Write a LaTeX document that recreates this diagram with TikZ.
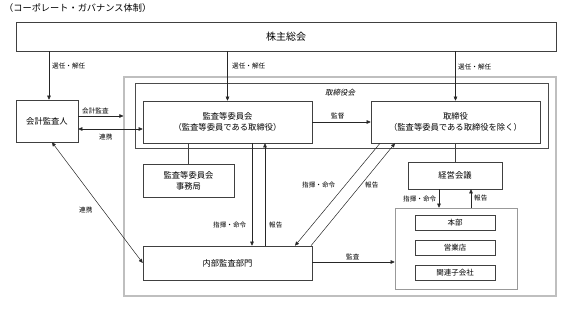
\documentclass[tikz,border=0pt]{standalone}
\usepackage{fontspec}
\setmainfont{Noto Sans CJK JP}
\newfontfamily\slantjp[FakeSlant=0.2]{Noto Sans CJK JP}
\usetikzlibrary{arrows.meta}
\tikzset{
  box/.style={draw=black!75, line width=0.6pt, fill=white, inner sep=0pt, align=center, font=\fontsize{8.3}{11}\selectfont},
  sbox/.style={draw=black!75, line width=0.6pt, fill=white, inner sep=0pt, align=center, font=\fontsize{7.5}{9}\selectfont},
  lbl/.style={inner sep=0pt, font=\fontsize{6.6}{8}\selectfont, anchor=west},
  arr/.style={draw=black!85, line width=0.5pt, -{Triangle[length=4pt,width=3.6pt]}},
  darr/.style={draw=black!85, line width=0.5pt, {Triangle[length=4pt,width=3.6pt]}-{Triangle[length=4pt,width=3.6pt]}},
  ln/.style={draw=black!75, line width=0.6pt},
}
\begin{document}
\begin{tikzpicture}[x=1pt,y=-1pt]
\useasboundingbox (0,0) rectangle (566,310);
\node[inner sep=0pt, anchor=west, font=\fontsize{9.2}{11}\selectfont] (title) at (4,8.5) {（コーポレート・ガバナンス体制）};
% outer frames
\node[draw=black!25, line width=1.2pt, inner sep=0pt, minimum width=432pt, minimum height=219pt] (outer) at (340,186.5) {};
\node[draw=black!70, line width=0.6pt, inner sep=0pt, minimum width=413pt, minimum height=65pt] (torikai) at (341.5,115.5) {};
\node[inner sep=0pt, font=\slantjp\fontsize{7.5}{9}\selectfont] (torikaiL) at (340,93) {取締役会};
% boxes
\node[box, font=\fontsize{10}{12}\selectfont, minimum width=540pt, minimum height=29pt] (kabu) at (286,36.5) {株主総会};
\node[box, minimum width=62pt, minimum height=42pt] (kaikei) at (47,121) {会計監査人};
\node[box, minimum width=169pt, minimum height=42pt] (kansa) at (227.5,122) {監査等委員会\\（監査等委員である取締役）};
\node[box, minimum width=169pt, minimum height=42pt] (tori) at (455.5,122) {取締役\\（監査等委員である取締役を除く）};
\node[box, minimum width=91pt, minimum height=33pt] (jimu) at (188.5,180.5) {監査等委員会\\事務局};
\node[box, minimum width=169pt, minimum height=34pt] (naibu) at (227.5,263) {内部監査部門};
\node[box, minimum width=94pt, minimum height=27pt] (keiei) at (455,175.5) {経営会議};
\node[draw=black!40, line width=0.6pt, inner sep=0pt, minimum width=122pt, minimum height=81pt] (group) at (456,248.5) {};
\node[sbox, minimum width=80pt, minimum height=15pt] (honbu) at (455,223) {本部};
\node[sbox, minimum width=80pt, minimum height=15pt] (eigyo) at (455,248) {営業店};
\node[sbox, minimum width=80pt, minimum height=15pt] (kanren) at (455,273) {関連子会社};
% shareholders arrows
\draw[arr] (kabu.south -| 49,0) -- (49,0 |- kaikei.north);
\node[lbl] at (52,65.5) {選任・解任};
\draw[arr] (kabu.south -| kansa.north) -- (kansa.north);
\node[lbl] at (232,66) {選任・解任};
\draw[arr] (kabu.south -| tori.north) -- (tori.north);
\node[lbl] at (458,66.5) {選任・解任};
% accountant
\draw[arr] (kaikei.east |- 0,116) -- (outer.west |- 0,116);
\node[lbl] at (82,111.5) {会計監査};
\draw[darr] (kaikei.east |- 0,129) -- (kansa.west |- 0,129);
\node[lbl] at (99,137) {連携};
\draw[darr] ([xshift=5pt]kaikei.south) -- (naibu.west);
\node[lbl] at (79,210) {連携};
% supervision
\draw[arr] (kansa.east) -- (tori.west);
\node[lbl] at (331,116) {監督};
% secretariat
\draw[ln] (kansa.south -| jimu.north) -- (jimu.north);
% audit committee <-> internal audit
\draw[arr] (kansa.south -| 252,0) -- (252,0 |- naibu.north);
\draw[arr] (265,0 |- naibu.north) -- (kansa.south -| 265,0);
\node[lbl] at (213,225) {指揮・命令};
\node[lbl] at (269,225) {報告};
% board <-> internal audit
\coordinate (t1) at (tori.south -| 380,0);
\coordinate (t2) at (tori.south -| 395,0);
\draw[arr] (t1) -- (naibu.north -| 295,0);
\draw[arr] (naibu.north -| 311,0) -- (t2);
\node[lbl] at (302,185) {指揮・命令};
\node[lbl] at (365,185) {報告};
% board -> management meeting
\draw[ln] (tori.south -| keiei.north) -- (keiei.north);
\draw[arr] (keiei.south -| 439,0) -- (group.north -| 439,0);
\draw[arr] (group.north -| 471,0) -- (keiei.south -| 471,0);
\node[lbl] at (403,198.5) {指揮・命令};
\node[lbl] at (474,198.5) {報告};
% internal audit -> group
\draw[arr] (naibu.east |- 0,262) -- (group.west |- 0,262);
\node[lbl] at (346,256.5) {監査};
\end{tikzpicture}
\end{document}
